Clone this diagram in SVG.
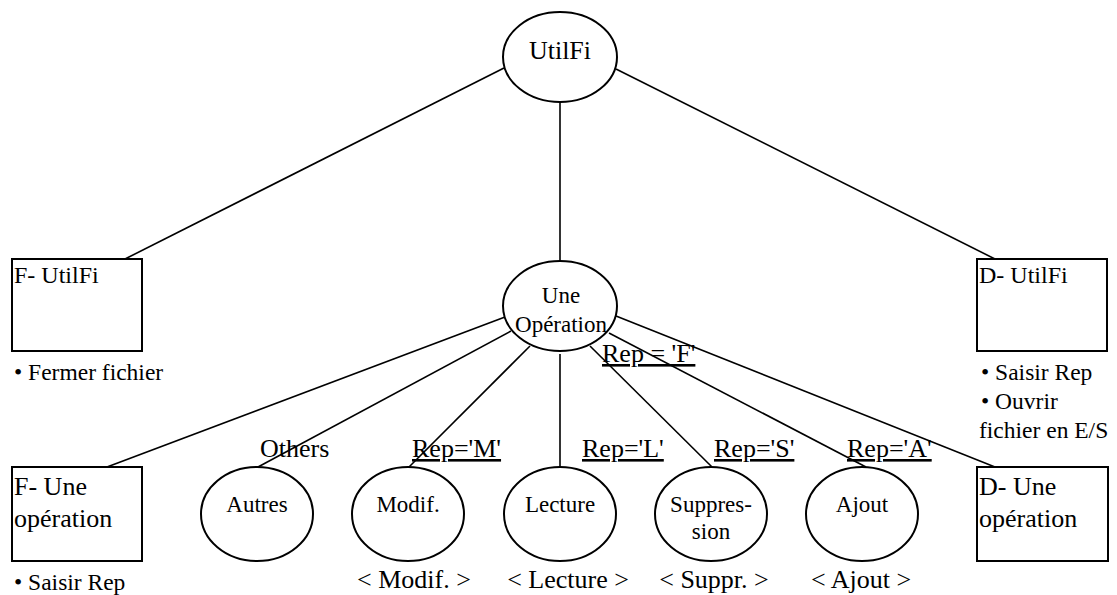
<svg xmlns="http://www.w3.org/2000/svg" width="1117" height="595" viewBox="0 0 1117 595">
  <style>
    text { font-family: "Liberation Serif", "Times New Roman", serif; fill: #000; }
    .node { fill: #fff; stroke: #000; stroke-width: 2; }
    .edge { stroke: #000; stroke-width: 1.6; fill: none; }
    .lbl { font-size: 23px; text-anchor: middle; }
    .big { font-size: 26px; }
    .box { font-size: 24px; }
    .box2 { font-size: 26px; }
    .note { font-size: 23.5px; }
    .cond { font-size: 26px; text-decoration: underline; }
    .out { font-size: 26px; text-anchor: middle; }
  </style>
  <rect width="1117" height="595" fill="#fff"/>

  <!-- connectors -->
  <g id="connectors">
    <line class="edge" x1="504" y1="68" x2="125" y2="259"/>
    <line class="edge" x1="560" y1="102" x2="560" y2="261"/>
    <line class="edge" x1="616" y1="69" x2="995" y2="259"/>
    <line class="edge" x1="505" y1="317" x2="107" y2="467"/>
    <line class="edge" x1="511" y1="331" x2="258" y2="467"/>
    <line class="edge" x1="530" y1="346" x2="409" y2="467"/>
    <line class="edge" x1="560" y1="354" x2="560" y2="467"/>
    <line class="edge" x1="590" y1="346" x2="712" y2="467"/>
    <line class="edge" x1="609" y1="333" x2="866" y2="467"/>
    <line class="edge" x1="616" y1="316" x2="995" y2="467"/>
  </g>

  <!-- root -->
  <g id="utilfi">
    <ellipse class="node" cx="560" cy="57" rx="57" ry="45"/>
    <text class="big" x="560" y="59" text-anchor="middle">UtilFi</text>
  </g>

  <g id="f-utilfi">
    <rect class="node" x="12" y="259" width="130" height="92"/>
    <text class="box" x="14" y="283">F- UtilFi</text>
    <text class="note" x="14" y="380">• Fermer fichier</text>
  </g>

  <g id="d-utilfi">
    <rect class="node" x="977" y="259" width="130" height="92"/>
    <text class="box" x="979" y="283">D- UtilFi</text>
    <text class="note" x="981" y="380">• Saisir Rep</text>
    <text class="note" x="981" y="409">• Ouvrir</text>
    <text class="note" x="979" y="438">fichier en E/S</text>
  </g>

  <g id="une-operation">
    <ellipse class="node" cx="560" cy="306" rx="57" ry="45"/>
    <text class="lbl" x="561" y="303">Une</text>
    <text class="lbl" x="561" y="332">Opération</text>
    <text class="cond" x="602" y="362">Rep = 'F'</text>
  </g>

  <g id="f-une-operation">
    <rect class="node" x="12" y="467" width="130" height="94"/>
    <text class="box2" x="14" y="495">F- Une</text>
    <text class="box2" x="14" y="527">opération</text>
    <text class="note" x="14" y="590">• Saisir Rep</text>
  </g>

  <g id="d-une-operation">
    <rect class="node" x="977" y="467" width="131" height="94"/>
    <text class="box2" x="979" y="495">D- Une</text>
    <text class="box2" x="979" y="527">opération</text>
  </g>

  <g id="autres">
    <ellipse class="node" cx="257" cy="514" rx="56" ry="47"/>
    <text class="lbl" x="257" y="512">Autres</text>
    <text class="big" x="260" y="457">Others</text>
  </g>

  <g id="modif">
    <ellipse class="node" cx="408" cy="514" rx="56" ry="47"/>
    <text class="lbl" x="408" y="512">Modif.</text>
    <text class="cond" x="412" y="457">Rep='M'</text>
    <text class="out" x="414" y="588">&lt; Modif. &gt;</text>
  </g>

  <g id="lecture">
    <ellipse class="node" cx="560" cy="514" rx="56" ry="47"/>
    <text class="lbl" x="560" y="512">Lecture</text>
    <text class="cond" x="582" y="457">Rep='L'</text>
    <text class="out" x="568" y="588">&lt; Lecture &gt;</text>
  </g>

  <g id="suppression">
    <ellipse class="node" cx="711" cy="514" rx="56" ry="47"/>
    <text class="lbl" x="711" y="512">Suppres-</text>
    <text class="lbl" x="711" y="539">sion</text>
    <text class="cond" x="714" y="457">Rep='S'</text>
    <text class="out" x="714" y="588">&lt; Suppr. &gt;</text>
  </g>

  <g id="ajout">
    <ellipse class="node" cx="862" cy="514" rx="56" ry="47"/>
    <text class="lbl" x="862" y="512">Ajout</text>
    <text class="cond" x="847" y="457">Rep='A'</text>
    <text class="out" x="861" y="588">&lt; Ajout &gt;</text>
  </g>
</svg>
